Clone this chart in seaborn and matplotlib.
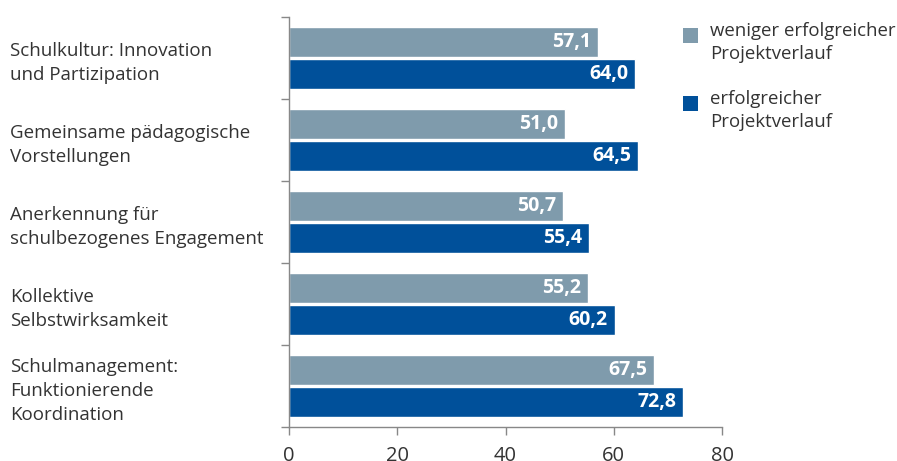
import matplotlib
matplotlib.use("Agg")
import matplotlib.pyplot as plt
import seaborn as sns
import pandas as pd
from matplotlib.patches import Rectangle

categories = [
    "Schulkultur: Innovation\nund Partizipation",
    "Gemeinsame pädagogische\nVorstellungen",
    "Anerkennung für\nschulbezogenes Engagement",
    "Kollektive\nSelbstwirksamkeit",
    "Schulmanagement:\nFunktionierende\nKoordination",
]
series_names = ["weniger erfolgreicher\nProjektverlauf", "erfolgreicher\nProjektverlauf"]
weniger = [57.1, 51.0, 50.7, 55.2, 67.5]
erfolgreich = [64.0, 64.5, 55.4, 60.2, 72.8]
x_ticks = [0, 20, 40, 60, 80]

colors = ["#7f9bac", "#00509a"]
text_color = "#333333"

df = pd.DataFrame({
    "Kategorie": categories * 2,
    "Gruppe": [series_names[0]] * 5 + [series_names[1]] * 5,
    "Wert": weniger + erfolgreich,
})

sns.set_theme(style="white")
plt.rcParams["font.family"] = ["Open Sans", "DejaVu Sans"]

fig = plt.figure(figsize=(8.97, 4.61), dpi=100)
ax = fig.add_axes([289 / 897, 1 - 427 / 461, (722 - 289) / 897, (427 - 17) / 461])

sns.barplot(data=df, y="Kategorie", x="Wert", hue="Gruppe", palette=colors,
            orient="h", width=0.78, gap=0.08, ax=ax, legend=False, saturation=1)

ax.set_xlim(0, 80)
ax.set_ylim(4.5, -0.5)
ax.set_xlabel("")
ax.set_ylabel("")
ax.set_xticks(x_ticks)
ax.set_xticklabels([str(t) for t in x_ticks])
ax.tick_params(axis="x", length=6, width=1, color="#888888", direction="out",
               labelsize=14.5, labelcolor=text_color, pad=8, bottom=True)

# y-axis: labels left aligned at figure edge, ticks at category boundaries
ax.tick_params(axis="y", which="major", length=0, pad=(289 - 10) * 72 / 100,
               labelsize=13.5, labelcolor=text_color)
for lbl in ax.get_yticklabels():
    lbl.set_horizontalalignment("left")
    lbl.set_linespacing(1.45)
ax.set_yticks([i + 0.5 for i in range(-1, 5)], minor=True)
ax.tick_params(axis="y", which="minor", length=6, width=1, color="#888888",
               direction="out", left=True)

for side in ["top", "right"]:
    ax.spines[side].set_visible(False)
for side in ["left", "bottom"]:
    ax.spines[side].set_color("#888888")
    ax.spines[side].set_linewidth(1)

# value labels inside bars
for patch in ax.patches:
    w = patch.get_width()
    if w <= 0:
        continue
    y = patch.get_y() + patch.get_height() / 2
    ax.annotate(f"{w:.1f}".replace(".", ","), xy=(w, y), xytext=(-5, 0),
                textcoords="offset points", ha="right", va="center",
                color="white", fontsize=14, fontweight="bold")

# legend (manual, square aligned with first line)
leg_y = [28, 96]
for i, name in enumerate(series_names):
    top = leg_y[i]
    fig.patches.append(Rectangle((683 / 897, 1 - (top + 15) / 461), 15 / 897, 15 / 461,
                                 transform=fig.transFigure, facecolor=colors[i],
                                 edgecolor="none"))
    fig.text(710 / 897, 1 - (top - 6) / 461, name, ha="left", va="top",
             fontsize=13.4, color=text_color, linespacing=1.35)

fig.savefig("out.png", dpi=100)
